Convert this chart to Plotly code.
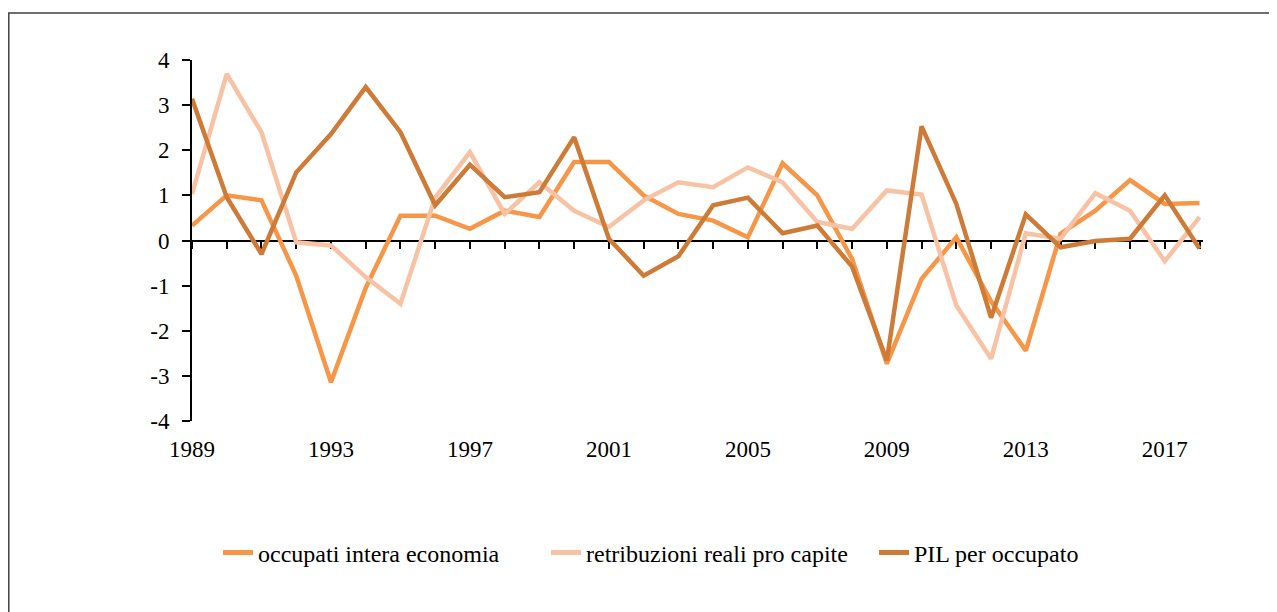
import plotly.graph_objects as go

years = list(range(1989, 2019))
occupati = [0.33, 1.00, 0.89, -0.78, -3.14, -1.05, 0.55, 0.55, 0.26, 0.66,
            0.52, 1.74, 1.74, 1.00, 0.59, 0.44, 0.07, 1.71, 1.00, -0.41,
            -2.73, -0.85, 0.07, -1.35, -2.44, 0.15, 0.66, 1.34, 0.81, 0.83]
retribuzioni = [1.03, 3.69, 2.40, -0.04, -0.11, -0.81, -1.40, 0.95, 1.96, 0.59,
                1.29, 0.66, 0.30, 0.89, 1.29, 1.18, 1.62, 1.29, 0.41, 0.26,
                1.11, 1.02, -1.44, -2.62, 0.16, 0.04, 1.05, 0.66, -0.46, 0.52]
pil = [3.14, 0.96, -0.30, 1.51, 2.36, 3.40, 2.40, 0.78, 1.68, 0.96,
       1.07, 2.29, 0.04, -0.78, -0.35, 0.78, 0.95, 0.16, 0.33, -0.58,
       -2.66, 2.53, 0.81, -1.71, 0.58, -0.15, -0.01, 0.04, 1.00, -0.18]
names = ["occupati intera economia", "retribuzioni reali pro capite", "PIL per occupato"]
colors = ["#F79646", "#F8C2A4", "#CD7B37"]
xlabels = [1989, 1993, 1997, 2001, 2005, 2009, 2013, 2017]
ylabels = [-4, -3, -2, -1, 0, 1, 2, 3, 4]

font = "Liberation Serif, Times New Roman, serif"
W, H = 1269, 604
L, R, T, B = 184, 74, 52, 191
pw, ph = W - L - R, H - T - B

fig = go.Figure()
for name, vals, col in zip(names, [occupati, retribuzioni, pil], colors):
    fig.add_trace(go.Scatter(x=years, y=vals, mode="lines", name=name,
                             line=dict(color=col, width=4.5)))

xr = [1989, 2018.1]
fig.update_layout(
    width=W, height=H,
    margin=dict(l=L, r=R, t=T, b=B),
    paper_bgcolor="white", plot_bgcolor="white",
    font=dict(family=font, size=23, color="black"),
    showlegend=True,
    legend=dict(orientation="h", x=(218 - 8 - L) / pw, y=(413 - 545) / ph,
                xanchor="left", yanchor="middle",
                font=dict(family=font, size=24, color="black"), itemwidth=30,
                entrywidth=283, entrywidthmode="pixels",
                tracegroupgap=0, itemsizing="constant"),
    xaxis=dict(range=xr, tickvals=xlabels, ticktext=[str(v) for v in xlabels],
               showline=False, showgrid=False, zeroline=False, ticks="",
               ticklabelstandoff=12, tickfont=dict(family=font, size=23)),
    xaxis2=dict(range=xr, overlaying="x", anchor="free", position=0.5,
                showline=True, linecolor="black", linewidth=2,
                ticks="outside", ticklen=7, tickwidth=2, tickcolor="black",
                tick0=1989, dtick=1, showticklabels=False, showgrid=False,
                zeroline=False, layer="below traces"),
    yaxis=dict(range=[-4, 4], tickvals=ylabels, ticktext=[str(v) for v in ylabels],
               showline=True, linecolor="black",
               linewidth=2, ticks="outside", ticklen=8, tickwidth=2, tickcolor="black",
               showgrid=False, zeroline=False, ticklabelstandoff=8,
               tickfont=dict(family=font, size=23)),
    shapes=[dict(type="rect", xref="paper", yref="paper",
                 x0=(0.8 - L) / pw, x1=(W + 10 - L) / pw,
                 y0=(ph + T - (H + 10)) / ph, y1=(ph + T - 5) / ph,
                 line=dict(color="#404040", width=1.5), fillcolor="rgba(0,0,0,0)",
                 layer="below")],
)
fig.add_trace(go.Scatter(x=[1989], y=[None], xaxis="x2", showlegend=False,
                         hoverinfo="skip"))
fig.write_html("out.html")
